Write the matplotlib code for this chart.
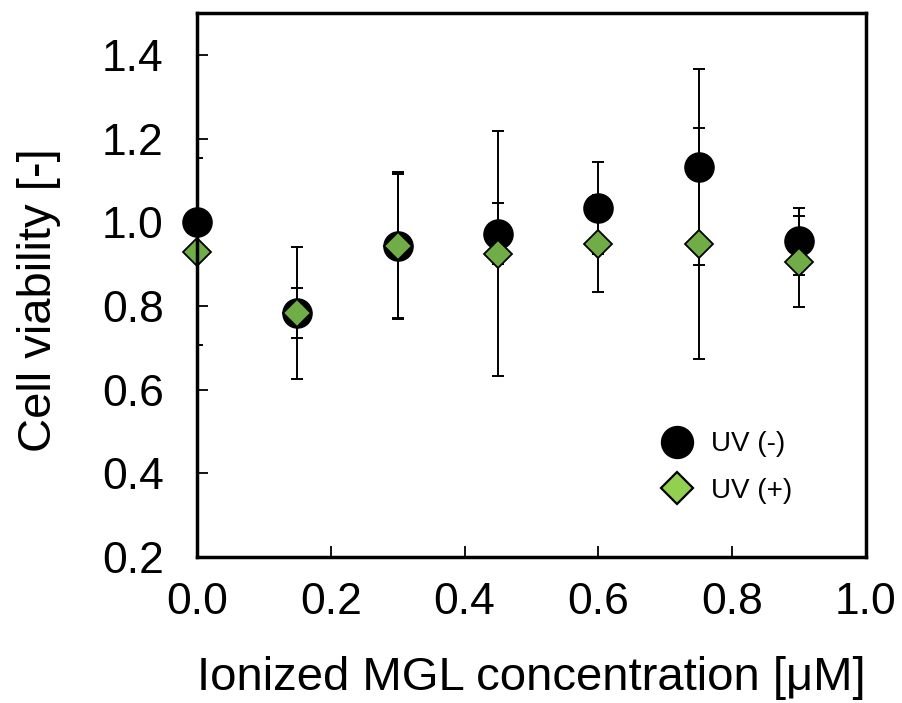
import matplotlib
matplotlib.use('Agg')
import matplotlib.pyplot as plt
from matplotlib.lines import Line2D
import numpy as np

plt.rcParams['font.family'] = ['Liberation Sans', 'DejaVu Sans']

# concentration [uM]
conc = [0.0, 0.15, 0.3, 0.45, 0.6, 0.75, 0.9]

# UV (-)
uv_minus = [1.00, 0.783, 0.944, 0.973, 1.035, 1.131, 0.955]
uv_minus_err = [0.0, 0.157, 0.175, 0.072, 0.11, 0.234, 0.08]

# UV (+)
uv_plus = [0.93, 0.783, 0.944, 0.925, 0.949, 0.949, 0.906]
uv_plus_err = [0.224, 0.06, 0.172, 0.292, 0.116, 0.275, 0.108]

labels = ['UV (-)', 'UV (+)']

fig = plt.figure(figsize=(9.02, 7.03), dpi=100)
ax = fig.add_axes([0.2184, 0.2077, 0.7416, 0.7738])

# error bars are clipped at the axes, markers are not
ax.errorbar(conc, uv_minus, yerr=uv_minus_err, fmt='none', ecolor='black',
            elinewidth=1.4, capsize=4.5, capthick=1.4)
ax.plot(conc, uv_minus, 'o', color='black', markersize=21, clip_on=False)

ax.errorbar(conc, uv_plus, yerr=uv_plus_err, fmt='none', ecolor='black',
            elinewidth=1.4, capsize=4.5, capthick=1.4)
ax.plot(conc, uv_plus, 'D', color='#70AD47', markeredgecolor='black',
        markeredgewidth=1.3, markersize=14.3, clip_on=False)

ax.set_xlim(0, 1.0)
ax.set_ylim(0.2, 1.5)
ax.set_xticks(np.arange(0, 1.01, 0.2))
ax.set_yticks(np.arange(0.2, 1.41, 0.2))
ax.set_xticklabels(['%.1f' % v for v in np.arange(0, 1.01, 0.2)])
ax.set_yticklabels(['%.1f' % v for v in np.arange(0.2, 1.41, 0.2)])

ax.tick_params(direction='in', length=8, width=1.3, labelsize=32)
ax.tick_params(axis='y', pad=24)
ax.tick_params(axis='x', pad=18)
for s in ax.spines.values():
    s.set_linewidth(2.5)

ax.set_xlabel('Ionized MGL concentration [μM]', fontsize=34, labelpad=24)
ax.set_ylabel('Cell viability [-]', fontsize=34)
ax.yaxis.set_label_coords(-0.203, 0.472)

handles = [
    Line2D([], [], linestyle='none', marker='o', color='black', markersize=23),
    Line2D([], [], linestyle='none', marker='D', markerfacecolor='#92D050',
           markeredgecolor='black', markeredgewidth=1.6, markersize=16.5),
]
ax.legend(handles, labels, loc='center', bbox_to_anchor=(0.793, 0.164),
          frameon=False, fontsize=20, handlelength=1.0, handletextpad=0.72,
          labelspacing=0.75, borderpad=0)

fig.savefig('out.png', dpi=100)
